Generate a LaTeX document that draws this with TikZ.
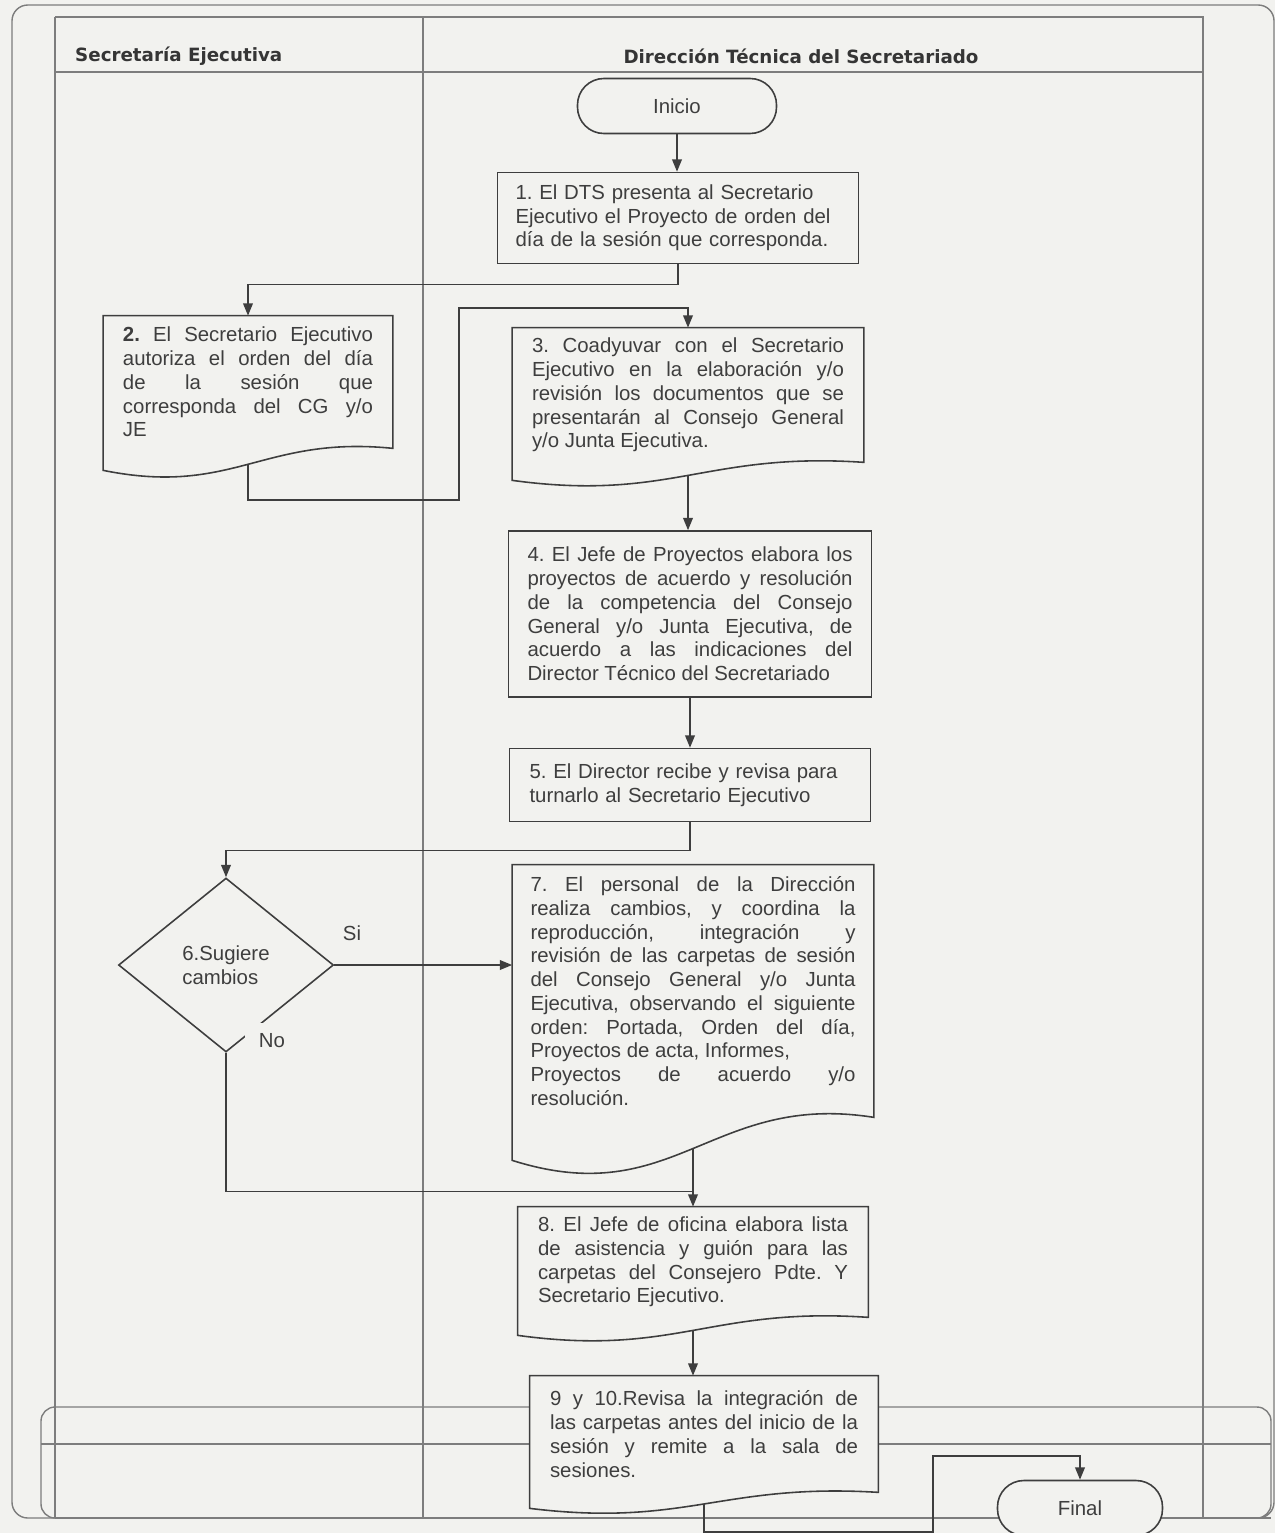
\documentclass[tikz,border=0pt]{standalone}
\usepackage{fontspec}
\setmainfont{Liberation Sans}
\newfontfamily\lanefont{DejaVu Sans}
\usepackage{xcolor}
\usepackage{tikz}
\usetikzlibrary{calc,shapes.geometric,arrows.meta}
\frenchspacing

\definecolor{paper}{RGB}{242,242,239}
\definecolor{ink}{RGB}{62,62,62}
\definecolor{rule}{RGB}{125,125,125}

\pgfdeclarelayer{back}
\pgfdeclarelayer{shade}
\pgfsetlayers{back,shade,main}

\tikzset{
  stepfont/.style={font=\fontsize{11.6}{13.5}\selectfont, text=ink},
  proc/.style={stepfont, draw=ink, fill=paper, line width=0.9pt, inner sep=0pt, align=justify},
  doc/.style={stepfont, inner sep=0pt, align=justify},
  docline/.style={draw=ink, fill=paper, line width=0.9pt},
  term/.style={stepfont, draw=ink, fill=paper, line width=0.9pt, rounded corners=15pt, minimum height=11mm},
  decision/.style={diamond, stepfont, draw=ink, fill=paper, line width=0.9pt, inner sep=0pt, align=left},
  lbl/.style={stepfont},
  lanehead/.style={font=\lanefont\fontsize{10.4}{12}\selectfont\bfseries, text=ink!85!black},
  arr/.style={->, draw=ink, line width=0.9pt},
  link/.style={draw=ink, line width=0.9pt},
  lane/.style={draw=rule, line width=0.8pt},
}

% document box: node name, drop of the left corner
\newcommand\docshape[2]{%
  \begin{pgfonlayer}{shade}
  \draw[docline] (#1.south east) -- (#1.north east) -- (#1.north west)
    -- ($(#1.south west)+(0,#2)$)
    .. controls ($(#1.south west)!0.45!(#1.south east)+(0,2.2*#2)$)
    and ($(#1.south east)!0.45!(#1.south west)+(0,-0.6*#2)$) .. (#1.south east)
    coordinate[pos=0.5] (#1w) -- cycle;
  \end{pgfonlayer}}

\begin{document}
\begin{tikzpicture}[x=0.2mm, y=-0.2mm, >={Triangle[length=7pt,width=5.5pt]}]
\useasboundingbox (0,0) rectangle (1275,1533);

% Lanes
\begin{pgfonlayer}{back}
\fill[paper] (0,0) rectangle (1275,1533);
\draw[lane, rounded corners=9pt] (12,5) rectangle (1274,1518);
\draw[lane] (55,17) -- (1203,17) -- (1203,1518);
\draw[lane] (55,17) -- (55,1518);
\draw[lane] (423,17) -- (423,1518);
\draw[lane] (55,72) -- (1203,72);
\draw[lane, rounded corners=8pt] (41,1407) rectangle (1271,1518);
\draw[lane] (41,1444) -- (1271,1444);
\draw[rule, line width=1.6pt] (55,1518) -- (1271,1518);
\end{pgfonlayer}

\node[lanehead, anchor=west] (se) at (69,56) {Secretaría Ejecutiva};
\node[lanehead] (dts) at (801,56) {Dirección Técnica del Secretariado};

% Steps
\node[term, minimum width=39.8mm] (ini) at (677,106) {Inicio};

\node[proc, align=left, minimum width=72.2mm, minimum height=18.2mm, text width=65mm] (b1) at (678,218)
  {1. El DTS presenta al Secretario\\ Ejecutivo el Proyecto de orden del\\ día de la sesión que corresponda.};

\node[doc, minimum width=57.8mm, minimum height=26.4mm, text width=50mm] (b2) at (248,382)
  {\textbf{2.} El Secretario Ejecutivo\linebreak autoriza el orden del día\linebreak de la sesión que\linebreak corresponda del CG y/o\linebreak JE};
\docshape{b2}{22}

\node[doc, minimum width=70.2mm, minimum height=26.8mm, text width=62.4mm] (b3) at (688,395)
  {3. Coadyuvar con el Secretario\linebreak Ejecutivo en la elaboración y/o\linebreak revisión los documentos que se\linebreak presentarán al Consejo General\linebreak y/o Junta Ejecutiva.};
\docshape{b3}{18}

\node[proc, minimum width=72.6mm, minimum height=33.2mm, text width=65mm] (b4) at (690,614)
  {4. El Jefe de Proyectos elabora los\linebreak proyectos de acuerdo y resolución\linebreak de la competencia del Consejo\linebreak General y/o Junta Ejecutiva, de\linebreak acuerdo a las indicaciones del\linebreak Director Técnico del Secretariado};

\node[proc, align=left, minimum width=72.2mm, minimum height=14.6mm, text width=64.2mm] (b5) at (690,785)
  {5. El Director recibe y revisa para\\ turnarlo al Secretario Ejecutivo};

\node[decision, minimum width=43mm, minimum height=34.8mm] (d6) at (226,965) {6.Sugiere\\cambios};

\node[doc, minimum width=72.2mm, minimum height=50.4mm, text width=65mm] (b7) at (693,991)
  {7. El personal de la Dirección\linebreak realiza cambios, y coordina la\linebreak reproducción, integración y\linebreak revisión de las carpetas de sesión\linebreak del Consejo General y/o Junta\linebreak Ejecutiva, observando el siguiente\linebreak orden: Portada, Orden del día,\linebreak Proyectos de acta, Informes,\\ Proyectos de acuerdo y/o\linebreak resolución.};
\docshape{b7}{43}

\node[doc, minimum width=70mm, minimum height=22mm, text width=62mm] (b8) at (693,1262)
  {8. El Jefe de oficina elabora lista\linebreak de asistencia y guión para las\linebreak carpetas del Consejero Pdte. Y\linebreak Secretario Ejecutivo.};
\docshape{b8}{18}

\node[doc, minimum width=69.6mm, minimum height=23.2mm, text width=61.6mm] (b9) at (704,1434)
  {9 y 10.Revisa la integración de\linebreak las carpetas antes del inicio de la\linebreak sesión y remite a la sala de\linebreak sesiones.};
\docshape{b9}{16}

\node[term, minimum width=33mm] (fin) at (1080,1508) {Final};

% Labels
\node[lbl] (si) at (352,933) {Si};
\node[lbl, fill=paper, inner xsep=8pt, inner ysep=6pt] (no) at (272,1041) {No};

% Connectors
\coordinate (j8) at ($(b8.north)+(0,-15)$);
\coordinate (k9) at (933,1456);
\draw[arr] (ini.south) -- (ini.south |- b1.north);
\draw[arr] (b1.south) -- ++(0,20) -| (b2.north);
\draw[arr] (b2w) |- (459,500) -- (459,308) -| (b3.north);
\draw[arr] (b3w) -- (b3w |- b4.north);
\draw[arr] (b4.south) -- (b4.south |- b5.north);
\draw[arr] (b5.south) -- ++(0,28) -| (d6.north);
\draw[arr] (d6.east) -- (d6.east -| b7.west);
\draw[link] (d6.south) |- (j8);
\draw[arr] (b7w) -- (b8.north);
\draw[arr] (b8w) -- (b8w |- b9.north);
\draw[arr] (b9w) -- ++(0,28) -| (k9) -| (fin.north);

\end{tikzpicture}
\end{document}
